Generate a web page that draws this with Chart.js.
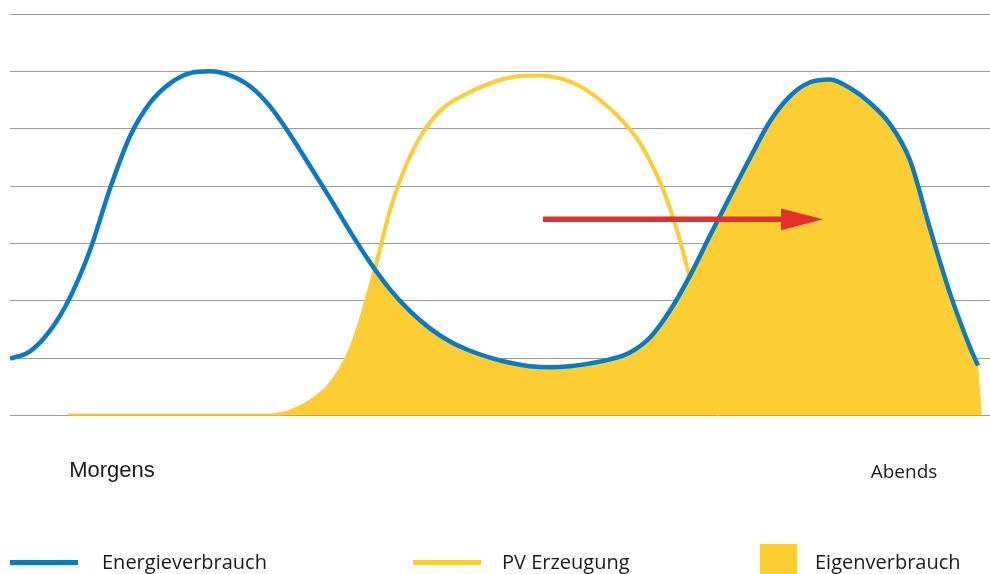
<!DOCTYPE html>
<html>
<head>
<meta charset="utf-8">
<script src="https://cdn.jsdelivr.net/npm/chart.js@4.4.1/dist/chart.umd.min.js"></script>
<style>
  html, body { margin: 0; padding: 0; background: #ffffff; }
  #wrap { position: relative; width: 990px; height: 574px; overflow: hidden; }
  #c { position: absolute; left: 0; top: 0; }
  .legend-item { position: absolute; top: 547px; height: 30px; font-family: "Open Sans", sans-serif; font-size: 20px; color: #1a1a1a; line-height: 30px; white-space: nowrap; }
  .legend-swatch { position: absolute; }
</style>
</head>
<body>
<div id="wrap">
  <canvas id="c" width="990" height="574"></canvas>
  <div id="legend"></div>
</div>
<script>
// ---- Data (x in time units across the day, y in grid units) ----
const tickPositions = [10.2, 89.4];
const tickLabels = ['Morgens', 'Abends'];

const seriesLabels = ['Energieverbrauch', 'PV Erzeugung', 'Eigenverbrauch'];

const consumptionX = [0, 2, 4, 6, 8, 10, 12, 14, 16, 18, 20, 22, 24, 26, 28, 30, 32, 34, 36, 38, 40, 42, 44, 46, 48, 50, 52, 54, 56, 58, 60, 62, 64, 66, 68, 70, 72, 74, 76, 78, 80, 82, 84, 86, 88, 90, 92, 94, 96, 96.8];
const consumptionY = [0.99, 1.12, 1.48, 2.06, 2.88, 3.96, 4.87, 5.45, 5.79, 5.97, 6.0, 5.93, 5.74, 5.39, 4.90, 4.35, 3.79, 3.21, 2.67, 2.20, 1.82, 1.52, 1.29, 1.13, 1.01, 0.92, 0.86, 0.84, 0.86, 0.91, 0.98, 1.10, 1.36, 1.83, 2.44, 3.14, 3.82, 4.49, 5.13, 5.57, 5.81, 5.86, 5.71, 5.45, 5.08, 4.45, 3.26, 2.13, 1.19, 0.87];

const pvX = [5.8, 16, 25.5, 28, 30, 32, 33, 34, 35, 36, 37, 38, 39, 40, 41, 42, 43, 44, 45, 47, 49, 51, 53, 55, 57, 59, 61, 63, 65, 66, 67, 68, 69, 70, 70.8];
const pvY = [0, 0, 0, 0.07, 0.24, 0.54, 0.79, 1.13, 1.62, 2.23, 2.91, 3.58, 4.10, 4.52, 4.85, 5.11, 5.31, 5.45, 5.55, 5.72, 5.85, 5.92, 5.93, 5.88, 5.74, 5.50, 5.18, 4.75, 4.07, 3.61, 3.05, 2.39, 1.62, 0.79, 0];

const selfUseX = [25.5, 28, 30, 32, 33, 34, 35, 36, 36.49, 37, 38, 40, 42, 44, 46, 48, 50, 52, 54, 56, 58, 60, 62, 64, 66, 68, 70, 72, 74, 76, 78, 80, 82, 84, 86, 88, 90, 92, 94, 96, 96.8, 97.2];
const selfUseY = [0, 0.07, 0.24, 0.54, 0.79, 1.13, 1.62, 2.23, 2.56, 2.43, 2.20, 1.82, 1.52, 1.29, 1.13, 1.01, 0.92, 0.86, 0.84, 0.86, 0.91, 0.98, 1.10, 1.36, 1.83, 2.44, 3.14, 3.82, 4.49, 5.13, 5.57, 5.81, 5.86, 5.71, 5.45, 5.08, 4.45, 3.26, 2.13, 1.19, 0.87, 0];

const arrowShaftX = [53.3, 77.5];
const arrowShaftY = [3.42, 3.42];
const arrowHeadX = [77.1, 81.3, 77.1];
const arrowHeadY = [3.61, 3.42, 3.23];

const colors = { blue: '#0A7BC2', yellow: '#FECD33', fill: '#FDCD34', red: '#E62E2F', grid: '#9d9d9d', text: '#1a1a1a' };

const toPoints = (xs, ys) => xs.map((x, i) => ({ x: x, y: ys[i] }));

const chart = new Chart(document.getElementById('c'), {
  type: 'line',
  data: {
    datasets: [
      { label: 'arrowHead', data: toPoints(arrowHeadX, arrowHeadY), borderWidth: 0, borderColor: colors.red, backgroundColor: colors.red, fill: 'shape', pointRadius: 0, tension: 0, order: 0 },
      { label: 'arrowShaft', data: toPoints(arrowShaftX, arrowShaftY), borderWidth: 5.5, borderColor: colors.red, borderCapStyle: 'butt', fill: false, pointRadius: 0, tension: 0, order: 1 },
      { label: seriesLabels[0], data: toPoints(consumptionX, consumptionY), borderColor: colors.blue, borderWidth: 4.5, fill: false, pointRadius: 0, cubicInterpolationMode: 'monotone', order: 2 },
      { label: seriesLabels[2], data: toPoints(selfUseX, selfUseY), borderWidth: 0, borderColor: colors.fill, backgroundColor: colors.fill, fill: 'origin', pointRadius: 0, cubicInterpolationMode: 'monotone', order: 3 },
      { label: seriesLabels[1], data: toPoints(pvX, pvY), borderColor: colors.yellow, borderWidth: 4, fill: false, pointRadius: 0, cubicInterpolationMode: 'monotone', order: 4 }
    ]
  },
  options: {
    responsive: false,
    animation: false,
    devicePixelRatio: 1,
    layout: { padding: { left: 10, right: 0, top: 14, bottom: 45 } },
    plugins: { legend: { display: false }, tooltip: { enabled: false } },
    scales: {
      x: {
        type: 'linear', min: 0, max: 98,
        grid: { display: false, drawTicks: false },
        border: { display: false },
        afterBuildTicks: (axis) => { axis.ticks = tickPositions.map(v => ({ value: v })); },
        ticks: {
          autoSkip: false, maxRotation: 0, padding: 42,
          color: colors.text,
          font: (ctx) => (ctx.index === 0
            ? { family: 'Liberation Sans', size: 22, lineHeight: 1.2 }
            : { family: 'Open Sans', size: 19, lineHeight: 1.55 }),
          callback: (value, index) => tickLabels[index]
        }
      },
      y: {
        min: 0, max: 7,
        ticks: { display: false, stepSize: 1 },
        grid: { color: colors.grid, lineWidth: 1, drawTicks: false },
        border: { display: false }
      }
    }
  }
});

// HTML legend built from the dataset labels/colours
const legendLeft = [10, 413, 760];
const legendTextLeft = [102, 502, 815];
const legendEl = document.getElementById('legend');
[
  { label: seriesLabels[0], color: colors.blue, type: 'line' },
  { label: seriesLabels[1], color: colors.yellow, type: 'line' },
  { label: seriesLabels[2], color: colors.fill, type: 'box' }
].forEach((item, i) => {
  const sw = document.createElement('div');
  sw.className = 'legend-swatch';
  sw.style.background = item.color;
  sw.style.left = legendLeft[i] + 'px';
  if (item.type === 'line') { sw.style.width = '68px'; sw.style.height = '5px'; sw.style.top = '560px'; }
  else { sw.style.width = '37px'; sw.style.height = '30px'; sw.style.top = '544px'; }
  legendEl.appendChild(sw);
  const tx = document.createElement('div');
  tx.className = 'legend-item';
  tx.style.left = legendTextLeft[i] + 'px';
  tx.textContent = item.label;
  legendEl.appendChild(tx);
});
</script>
</body>
</html>
